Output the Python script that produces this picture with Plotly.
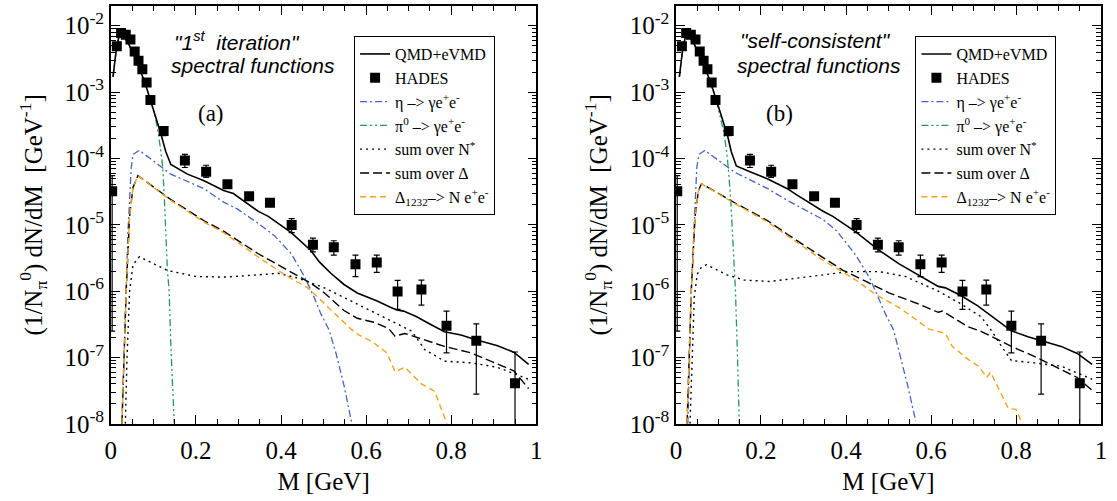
import plotly.graph_objects as go

# ---------------- HADES data (same in both panels) ----------------
hades_M = [0.003, 0.014, 0.024, 0.035, 0.046, 0.056, 0.065, 0.074, 0.084, 0.093, 0.124, 0.174,
           0.224, 0.274, 0.325, 0.374, 0.425, 0.475, 0.524, 0.575, 0.625, 0.674, 0.730, 0.789,
           0.859, 0.950]
hades_y = [3.2e-5, 4.9e-3, 7.8e-3, 7.3e-3, 6.2e-3, 4.1e-3, 2.96e-3, 2.2e-3, 1.4e-3, 7.6e-4, 2.6e-4,
           9.3e-5, 6.3e-5, 4.1e-5, 2.7e-5, 2.15e-5, 9.9e-6, 5.0e-6, 4.6e-6, 2.55e-6, 2.7e-6, 9.9e-7,
           1.06e-6, 3.0e-7, 1.78e-7, 4.1e-8]
hades_hi = [5.5e-5, 5.3e-3, 8.4e-3, 7.8e-3, 6.7e-3, 4.4e-3, 3.2e-3, 2.4e-3, 1.5e-3, 8.2e-4, 3.0e-4,
            1.15e-4, 7.9e-5, 4.6e-5, 3.0e-5, 2.4e-5, 1.24e-5, 6.3e-6, 5.75e-6, 3.5e-6, 3.5e-6, 1.45e-6,
            1.47e-6, 5.0e-7, 3.2e-7, 1.21e-7]
hades_lo = [2.5e-7, 4.5e-3, 7.2e-3, 6.8e-3, 5.7e-3, 3.8e-3, 2.7e-3, 2.0e-3, 1.3e-3, 7.0e-4, 2.2e-4,
            7.3e-5, 5.2e-5, 3.6e-5, 2.4e-5, 1.9e-5, 7.6e-6, 3.9e-6, 3.5e-6, 1.66e-6, 1.92e-6, 5.3e-7,
            6.15e-7, 1.17e-7, 2.8e-8, 1.0e-9]

# ---------------- Panel (a): "1st iteration" ----------------
a_tot_M = [0.005, 0.012, 0.02, 0.024, 0.04, 0.06, 0.08, 0.095, 0.105, 0.118, 0.129, 0.141, 0.18,
           0.219, 0.265, 0.288, 0.3465, 0.370, 0.424, 0.470, 0.490, 0.517, 0.548, 0.579, 0.626,
           0.657, 0.672, 0.688, 0.719, 0.742, 0.784, 0.823, 0.854, 0.909, 0.947, 0.982]
a_tot_y = [1.7e-3, 4.0e-3, 7.5e-3, 7.9e-3, 5.6e-3, 3.0e-3, 1.4e-3, 7.2e-4, 4.3e-4, 2.3e-4, 1.27e-4,
           8.1e-5, 5.8e-5, 4.6e-5, 3.3e-5, 2.96e-5, 1.59e-5, 1.34e-5, 7.6e-6, 4.1e-6, 2.76e-6, 1.86e-6,
           1.26e-6, 9.4e-7, 7.1e-7, 5.7e-7, 5.2e-7, 5.0e-7, 4.1e-7, 3.4e-7, 2.44e-7, 2.18e-7, 1.88e-7,
           1.5e-7, 1.2e-7, 7.9e-8]

a_eta_M = [0.026, 0.031, 0.036, 0.040, 0.048, 0.052, 0.067, 0.141, 0.219, 0.265, 0.296, 0.3465,
           0.385, 0.424, 0.455, 0.478, 0.494, 0.513, 0.529, 0.548, 0.564, 0.567]
a_eta_y = [1e-8, 1e-7, 1e-6, 7.6e-6, 7.3e-5, 1.15e-4, 1.32e-4, 5.8e-5, 3.5e-5, 2.2e-5, 1.75e-5, 1.05e-5,
           6.8e-6, 3.66e-6, 1.66e-6, 8e-7, 4.5e-7, 2.6e-7, 1.17e-7, 3.8e-8, 1.2e-8, 1e-8]

a_pi0_M = [0.005, 0.012, 0.02, 0.024, 0.04, 0.06, 0.08, 0.095, 0.105, 0.112, 0.118, 0.122, 0.126,
           0.129, 0.133, 0.137, 0.141, 0.149]
a_pi0_y = [1.7e-3, 4.0e-3, 7.5e-3, 7.9e-3, 5.6e-3, 3.0e-3, 1.4e-3, 7.0e-4, 4.0e-4, 2.3e-4, 1.2e-4,
           7.3e-5, 2.3e-5, 7.6e-6, 2.0e-6, 1.0e-6, 1.5e-7, 1e-8]

a_nst_M = [0.034, 0.038, 0.044, 0.052, 0.067, 0.10, 0.133, 0.2, 0.27, 0.3465, 0.393, 0.44, 0.502,
           0.579, 0.657, 0.688, 0.707, 0.738, 0.784, 0.847, 0.909, 0.982]
a_nst_y = [1e-8, 1e-7, 1e-6, 2.5e-6, 3.3e-6, 2.6e-6, 2.05e-6, 1.66e-6, 1.63e-6, 1.76e-6, 1.86e-6,
           1.57e-6, 1.12e-6, 6.4e-7, 3.6e-7, 2.9e-7, 2.5e-7, 1.31e-7, 8.8e-8, 8.3e-8, 7.1e-8, 4.7e-8]

a_del_M = [0.026, 0.031, 0.036, 0.044, 0.052, 0.0636, 0.141, 0.219, 0.265, 0.3465, 0.381, 0.424,
           0.470, 0.502, 0.548, 0.579, 0.618, 0.653, 0.668, 0.691, 0.738, 0.784, 0.847, 0.909, 0.947,
           0.982]
a_del_y = [1e-8, 1e-7, 1e-6, 1.34e-5, 3.66e-5, 5.5e-5, 2.4e-5, 1.15e-5, 8.0e-6, 3.66e-6, 2.76e-6,
           1.97e-6, 1.32e-6, 9.4e-7, 5.1e-7, 3.9e-7, 3.4e-7, 2.73e-7, 2.1e-7, 2.3e-7, 1.84e-7, 1.47e-7,
           1.17e-7, 7.9e-8, 6.3e-8, 3.4e-8]

a_d1232_M = [0.026, 0.031, 0.036, 0.044, 0.052, 0.0636, 0.141, 0.219, 0.265, 0.3465, 0.409, 0.463,
             0.502, 0.540, 0.564, 0.583, 0.614, 0.649, 0.668, 0.691, 0.730, 0.761, 0.784, 0.79]
a_d1232_y = [1e-8, 1e-7, 1e-6, 1.34e-5, 3.66e-5, 5.5e-5, 2.33e-5, 1.1e-5, 7.6e-6, 3.27e-6, 1.76e-6,
             1.12e-6, 6.4e-7, 3.8e-7, 2.7e-7, 2.18e-7, 1.74e-7, 1.17e-7, 6.1e-8, 7.1e-8, 4e-8, 3.1e-8,
             1.2e-8, 1e-8]

# ---------------- Panel (b): "self-consistent" ----------------
b_tot_M = [0.008, 0.015, 0.024, 0.04, 0.06, 0.08, 0.095, 0.105, 0.121, 0.130, 0.142, 0.177, 0.216,
           0.262, 0.285, 0.346, 0.369, 0.423, 0.474, 0.524, 0.578, 0.617, 0.634, 0.671, 0.710, 0.741,
           0.789, 0.828, 0.882, 0.906, 0.944, 0.979]
b_tot_y = [1.7e-3, 4.0e-3, 7.9e-3, 5.8e-3, 3.1e-3, 1.5e-3, 7.6e-4, 4.6e-4, 2.25e-4, 1.27e-4, 7.7e-5,
           6.2e-5, 4.9e-5, 3.5e-5, 2.8e-5, 1.6e-5, 1.34e-5, 7.8e-6, 4.3e-6, 2.6e-6, 1.66e-6, 1.18e-6,
           1.12e-6, 8.5e-7, 6e-7, 4.3e-7, 2.52e-7, 2.06e-7, 1.64e-7, 1.47e-7, 1.15e-7, 7.9e-8]

b_eta_M = [0.028, 0.032, 0.036, 0.041, 0.049, 0.054, 0.068, 0.138, 0.216, 0.262, 0.346, 0.378,
           0.423, 0.456, 0.470, 0.479, 0.493, 0.512, 0.526, 0.545, 0.564]
b_eta_y = [1e-8, 1e-7, 1e-6, 5.4e-6, 7.3e-5, 1.15e-4, 1.32e-4, 6.2e-5, 3.5e-5, 2.33e-5, 1.2e-5,
           8.1e-6, 3.5e-6, 1.57e-6, 1e-6, 7.1e-7, 4.5e-7, 2.6e-7, 1.17e-7, 3.8e-8, 1.1e-8]

b_pi0_M = [0.008, 0.015, 0.024, 0.04, 0.06, 0.08, 0.095, 0.105, 0.112, 0.119, 0.123, 0.129, 0.133,
           0.137, 0.140, 0.144, 0.149]
b_pi0_y = [1.7e-3, 4.0e-3, 7.9e-3, 5.8e-3, 3.1e-3, 1.5e-3, 7.4e-4, 4.2e-4, 2.6e-4, 1.3e-4, 7.3e-5,
           2.33e-5, 7.6e-6, 1.97e-6, 1.0e-6, 1.5e-7, 1e-8]

b_nst_M = [0.033, 0.038, 0.043, 0.05, 0.06, 0.072, 0.12, 0.16, 0.22, 0.26, 0.346, 0.408, 0.478,
           0.54, 0.617, 0.671, 0.718, 0.741, 0.765, 0.789, 0.843, 0.906, 0.979]
b_nst_y = [1e-8, 1e-7, 8e-7, 1.8e-6, 2.3e-6, 2.5e-6, 1.76e-6, 1.47e-6, 1.4e-6, 1.5e-6, 1.76e-6,
           1.97e-6, 1.97e-6, 1.66e-6, 1.0e-6, 6.4e-7, 4.1e-7, 2.6e-7, 1.5e-7, 9e-8, 8.3e-8, 7.4e-8,
           4.7e-8]

b_del_M = [0.026, 0.031, 0.036, 0.045, 0.053, 0.060, 0.138, 0.216, 0.262, 0.346, 0.392, 0.447,
           0.501, 0.571, 0.617, 0.627, 0.656, 0.687, 0.720, 0.789, 0.843, 0.906, 0.944, 0.979]
b_del_y = [1e-8, 1e-7, 1e-6, 1.34e-5, 3.3e-5, 4.15e-5, 2.15e-5, 1.15e-5, 7.2e-6, 3.2e-6, 2.08e-6,
           1.4e-6, 9.4e-7, 6.4e-7, 4.8e-7, 5.0e-7, 3.8e-7, 2.9e-7, 2.44e-7, 1.47e-7, 1.04e-7, 6.6e-8,
           5e-8, 3.2e-8]

b_d1232_M = [0.026, 0.031, 0.036, 0.045, 0.053, 0.060, 0.138, 0.216, 0.262, 0.346, 0.378, 0.423,
             0.470, 0.524, 0.563, 0.594, 0.620, 0.634, 0.650, 0.688, 0.712, 0.731, 0.740, 0.782, 0.800,
             0.815]
b_d1232_y = [1e-8, 1e-7, 1e-6, 1.34e-5, 3.3e-5, 4.15e-5, 2.1e-5, 1.1e-5, 6.8e-6, 2.9e-6, 2.2e-6,
             1.47e-6, 8.9e-7, 5.7e-7, 3.8e-7, 2.7e-7, 2.44e-7, 2.3e-7, 1.47e-7, 9.3e-8, 7.4e-8, 5e-8,
             6e-8, 1.7e-8, 1.65e-8, 1e-8]

# ---------------- tick labels ----------------
x_ticks = [0, 0.2, 0.4, 0.6, 0.8, 1.0]
x_ticktext = ["0", "0.2", "0.4", "0.6", "0.8", "1"]
y_ticks = [1e-8, 1e-7, 1e-6, 1e-5, 1e-4, 1e-3, 1e-2]
y_ticktext = ["10<sup>-8</sup>", "10<sup>-7</sup>", "10<sup>-6</sup>", "10<sup>-5</sup>",
              "10<sup>-4</sup>", "10<sup>-3</sup>", "10<sup>-2</sup>"]

names = ["QMD+eVMD", "HADES", "η –> γe<sup>+</sup>e<sup>-</sup>",
         "π<sup>0</sup> –> γe<sup>+</sup>e<sup>-</sup>", "sum over N<sup>*</sup>",
         "sum over Δ", "Δ<sub>1232</sub>–> N e<sup>+</sup>e<sup>-</sup>"]

BLUE = "#4563c4"
GREEN = "#1f9a5c"
ORANGE = "#f5a21e"
SERIF = "Liberation Serif"
SANS = "Liberation Sans"

fig = go.Figure()


def add_panel(sfx, leg, tot, eta, pi0, nst, dlt, d1232):
    xa, ya = "x" + sfx, "y" + sfx
    common = dict(xaxis=xa, yaxis=ya, legend=leg, mode="lines")
    fig.add_trace(go.Scatter(x=pi0[0], y=pi0[1], name=names[3], legendrank=4, legendgroup=leg + "4",
                             line=dict(color=GREEN, width=1.3, dash="7px,3px,2px,3px,2px,3px"), **common))
    fig.add_trace(go.Scatter(x=eta[0], y=eta[1], name=names[2], legendrank=3, legendgroup=leg + "3",
                             line=dict(color=BLUE, width=1.3, dash="7px,3px,2px,3px"), **common))
    fig.add_trace(go.Scatter(x=nst[0], y=nst[1], name=names[4], legendrank=5, legendgroup=leg + "5",
                             line=dict(color="black", width=1.4, dash="2px,4px"), **common))
    fig.add_trace(go.Scatter(x=dlt[0], y=dlt[1], name=names[5], legendrank=6, legendgroup=leg + "6",
                             line=dict(color="black", width=1.4, dash="9px,4px"), **common))
    fig.add_trace(go.Scatter(x=d1232[0], y=d1232[1], name=names[6], legendrank=7, legendgroup=leg + "7",
                             line=dict(color=ORANGE, width=1.4, dash="6px,4px"), **common))
    fig.add_trace(go.Scatter(x=tot[0], y=tot[1], name=names[0], legendrank=1, legendgroup=leg + "1",
                             line=dict(color="black", width=1.6), **common))
    plus = [h - v for h, v in zip(hades_hi, hades_y)]
    minus = [v - l for v, l in zip(hades_y, hades_lo)]
    fig.add_trace(go.Scatter(x=hades_M, y=hades_y, name=names[1], legendrank=2, legendgroup=leg + "2",
                             xaxis=xa, yaxis=ya, legend=leg, mode="markers",
                             marker=dict(symbol="square", size=10, color="black"),
                             error_y=dict(type="data", array=plus, arrayminus=minus, symmetric=False,
                                          color="black", thickness=1.2, width=3)))


add_panel("", "legend", (a_tot_M, a_tot_y), (a_eta_M, a_eta_y), (a_pi0_M, a_pi0_y),
          (a_nst_M, a_nst_y), (a_del_M, a_del_y), (a_d1232_M, a_d1232_y))
add_panel("2", "legend2", (b_tot_M, b_tot_y), (b_eta_M, b_eta_y), (b_pi0_M, b_pi0_y),
          (b_nst_M, b_nst_y), (b_del_M, b_del_y), (b_d1232_M, b_d1232_y))

minor_y = [k * 10.0 ** e for e in range(-9, -1) for k in range(2, 10)]

xax = dict(range=[0, 1], tickmode="array", tickvals=x_ticks, ticktext=x_ticktext,
           ticks="inside", ticklen=9, tickwidth=1, tickcolor="black", ticklabelstandoff=3,
           minor=dict(tickmode="linear", tick0=0, dtick=0.05, ticks="inside", ticklen=5,
                      tickcolor="black", showgrid=False),
           showline=True, linecolor="black", linewidth=1.5, mirror="allticks",
           showgrid=False, zeroline=False,
           tickfont=dict(family=SERIF, size=25, color="black"),
           title=dict(text="M [GeV]", font=dict(family=SERIF, size=25, color="black"), standoff=10))
yax = dict(type="log", range=[-8, -1.70], tickmode="array", tickvals=y_ticks, ticktext=y_ticktext,
           ticks="inside", ticklen=9, tickwidth=1, tickcolor="black",
           minor=dict(tickmode="array", tickvals=minor_y, ticks="inside", ticklen=5,
                      tickcolor="black", showgrid=False),
           showline=True, linecolor="black", linewidth=1.5, mirror="allticks",
           showgrid=False, zeroline=False,
           tickfont=dict(family=SERIF, size=25, color="black"),
           title=dict(text="(1/N<sub>π</sub><sup>0</sup>) dN/dM  [GeV<sup>-1</sup>]",
                      font=dict(family=SERIF, size=25, color="black"), standoff=15))

legcommon = dict(bgcolor="white", bordercolor="black", borderwidth=1,
                 font=dict(family=SERIF, size=16, color="black"),
                 xanchor="left", yanchor="top", itemwidth=30, tracegroupgap=0,
                 traceorder="grouped", itemclick=False)

fig.update_layout(
    width=1117, height=501,
    margin=dict(l=0, r=0, t=0, b=0),
    paper_bgcolor="white", plot_bgcolor="white",
    showlegend=True,
    xaxis=dict(domain=[0.0949, 0.4799], anchor="y", **xax),
    yaxis=dict(domain=[0.1297, 0.988], anchor="x", **yax),
    xaxis2=dict(domain=[0.6063, 0.991], anchor="y2", **xax),
    yaxis2=dict(domain=[0.1297, 0.988], anchor="x2", **yax),
    legend=dict(x=0.315, y=0.926, **legcommon),
    legend2=dict(x=0.823, y=0.926, **legcommon),
)

ann_font_it = dict(family=SANS, size=21, color="black")
for xl, t1, xlab, lab in [(0.1504, '"1<sup>st</sup>  iteration"', 0.1853, "(a)"),
                          (0.6625, '"self-consistent"', 0.700, "(b)")]:
    fig.add_annotation(x=xl, y=0.916, xref="paper", yref="paper", text="<i>" + t1 + "</i>",
                       showarrow=False, xanchor="left", yanchor="middle", font=ann_font_it)
    fig.add_annotation(x=xl - 0.003, y=0.866, xref="paper", yref="paper",
                       text="<i>spectral functions</i>",
                       showarrow=False, xanchor="left", yanchor="middle", font=ann_font_it)
    fig.add_annotation(x=xlab, y=0.7665, xref="paper", yref="paper", text=lab, showarrow=False,
                       xanchor="center", yanchor="middle",
                       font=dict(family=SERIF, size=23, color="black"))

fig.write_html("out.html")
